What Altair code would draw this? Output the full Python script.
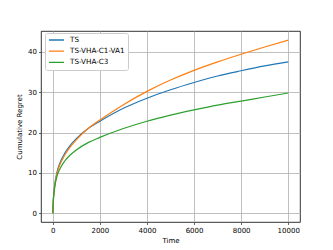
import altair as alt
import pandas as pd

times = [0, 25, 50, 100, 150, 200, 300, 500, 750, 1000, 1500, 2000, 3000, 4000, 5000, 6000, 7000, 8000, 9000, 10000]
ts = [0, 3.5, 5.2, 7.8, 9.4, 10.7, 12.4, 14.8, 16.9, 18.5, 21.0, 22.8, 26.0, 28.5, 30.6, 32.4, 34.0, 35.3, 36.5, 37.5]
ts_vha_c1_va1 = [0, 3.4, 5.0, 7.5, 9.1, 10.3, 12.0, 14.3, 16.5, 18.2, 21.0, 23.1, 26.9, 30.2, 33.0, 35.4, 37.5, 39.4, 41.2, 42.9]
ts_vha_c3 = [0, 3.3, 4.8, 7.1, 8.5, 9.6, 11.0, 12.9, 14.5, 15.7, 17.5, 18.8, 21.0, 22.8, 24.3, 25.6, 26.8, 27.8, 28.8, 29.8]

series_names = ["TS", "TS-VHA-C1-VA1", "TS-VHA-C3"]
series_colors = ["#1f77b4", "#ff7f0e", "#2ca02c"]
x_ticks = [0, 2000, 4000, 6000, 8000, 10000]
y_ticks = [0, 10, 20, 30, 40]

rows = []
for name, vals in zip(series_names, [ts, ts_vha_c1_va1, ts_vha_c3]):
    for t, v in zip(times, vals):
        rows.append({"Time": t, "Regret": v, "Series": name})
df = pd.DataFrame(rows)

font = "DejaVu Sans"

chart = alt.Chart(df).mark_line(strokeWidth=1.2, interpolate="monotone").encode(
    x=alt.X("Time:Q", scale=alt.Scale(domain=[-500, 10500], nice=False, zero=False),
            axis=alt.Axis(values=x_ticks, title="Time", format="d")),
    y=alt.Y("Regret:Q", scale=alt.Scale(domain=[-2.15, 45.15], nice=False, zero=False),
            axis=alt.Axis(values=y_ticks, title="Cumulative Regret", format="d")),
    color=alt.Color("Series:N", sort=series_names,
                    scale=alt.Scale(domain=series_names, range=series_colors),
                    legend=alt.Legend(title=None, orient="none", legendX=4, legendY=2,
                                      symbolType="stroke", symbolSize=225, symbolStrokeWidth=1.3,
                                      labelFontSize=7.2, labelFont=font, rowPadding=3.2,
                                      clipHeight=8,
                                      fillColor="white", strokeColor="#cccccc", cornerRadius=2,
                                      padding=3, labelOffset=5)),
    order=alt.Order("Time:Q"),
).properties(
    width=259, height=191,
    autosize=alt.AutoSizeParams(type="none"),
    padding={"left": 33, "top": 23, "right": 25, "bottom": 28},
).configure_view(
    stroke="black", strokeWidth=0.8
).configure_axis(
    domain=False, grid=True, gridColor="#b0b0b0", gridWidth=0.8,
    tickColor="black", tickSize=2.5, tickWidth=0.6,
    labelFont=font, labelFontSize=7, labelColor="black", labelPadding=2,
    titleFont=font, titleFontSize=7, titleFontWeight="normal", titleColor="black",
).configure_axisY(
    titlePadding=5
).configure_axisX(
    titlePadding=3
)

chart.save("out.html", embed_options={"renderer": "svg", "actions": False})
